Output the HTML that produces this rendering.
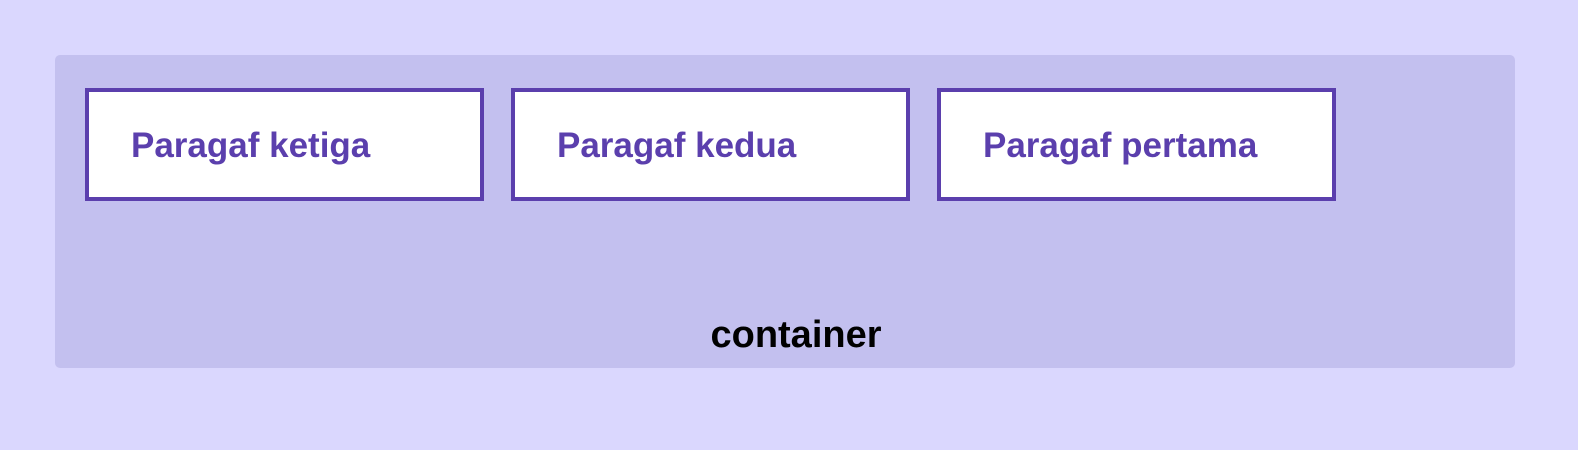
<!DOCTYPE html>
<html><head><style>
html,body{margin:0;padding:0;}
body{width:1578px;height:450px;background:#dad7fe;position:relative;overflow:hidden;font-family:"Liberation Sans",sans-serif;}
.c{position:absolute;left:55px;top:55px;width:1460px;height:313px;background:#c3c0ef;border-radius:5px;}
.b{position:absolute;top:88px;width:391px;height:105px;border:4px solid #5b3fad;background:#fff;}
.b span{position:absolute;left:42px;top:34px;font-weight:bold;font-size:35px;color:#5b3fad;white-space:nowrap;}
.l{position:absolute;left:0;width:1578px;top:314px;text-align:center;font-weight:bold;font-size:38px;color:#000;padding-left:14px;box-sizing:border-box;}
</style></head><body>
<div class="c"></div>
<div class="b" style="left:85px"><span>Paragaf ketiga</span></div>
<div class="b" style="left:511px"><span>Paragaf kedua</span></div>
<div class="b" style="left:937px"><span>Paragaf pertama</span></div>
<div class="l">container</div>
</body></html>
